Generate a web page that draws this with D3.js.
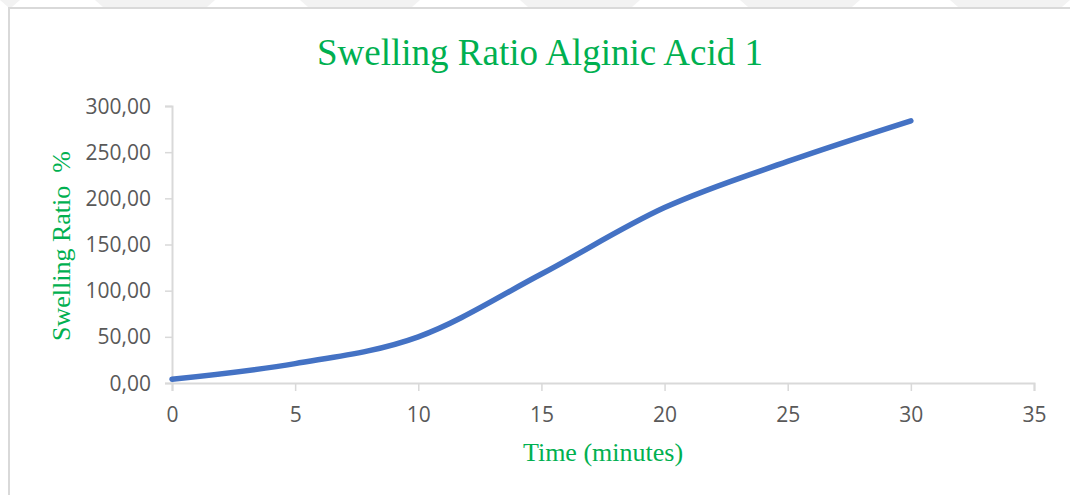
<!DOCTYPE html>
<html>
<head>
<meta charset="utf-8">
<script src="https://cdn.jsdelivr.net/npm/d3@7"></script>
<style>
  html, body { margin: 0; padding: 0; background: #fff; }
  svg { display: block; }
</style>
</head>
<body>
<div id="chart"></div>
<script>
// data
const times = [0, 5, 10, 15, 20, 25, 30]
const swelling = [4, 21, 50, 118, 190, 240, 284]
const xTicks = [0, 5, 10, 15, 20, 25, 30, 35]
const yTicks = [0, 50, 100, 150, 200, 250, 300]

const title = "Swelling Ratio Alginic Acid 1"
const xTitle = "Time (minutes)"
const yTitle = "Swelling Ratio\u00a0\u00a0%"

const W = 1070, H = 495
const green = "#00B050"
const serif = "'Liberation Serif', 'Times New Roman', serif"
const sans = "'Open Sans', 'Liberation Sans', sans-serif"

const svg = d3.select("#chart").append("svg")
  .attr("width", W)
  .attr("height", H)

// faint watermark strip at the very top
const wm = svg.append("g").attr("fill", "#f2f2f2")
;[[0, 20], [95, 215], [300, 420], [520, 640], [740, 860], [950, 1070]].forEach(([a, b]) => {
  wm.append("polygon").attr("points", `${a},0 ${b},0 ${b - 8},7 ${a + 8},7`)
})

// chart area border (left + top visible)
svg.append("path")
  .attr("d", "M9,495 V8 H1070")
  .attr("fill", "none")
  .attr("stroke", "#d9d9d9")
  .attr("stroke-width", 2)

const x = d3.scaleLinear().domain([0, 35]).range([172, 1034])
const y = d3.scaleLinear().domain([0, 300]).range([383, 106])

// y axis
const yAxis = svg.append("g")
  .attr("transform", `translate(${x(0)},0)`)
  .call(d3.axisLeft(y).tickValues(yTicks).tickSize(7).tickPadding(14)
    .tickFormat(d => d3.format(".2f")(d).replace(".", ",")))
yAxis.select(".domain").attr("stroke", "#d9d9d9").attr("stroke-width", 2)
yAxis.selectAll(".tick line").attr("stroke", "#d9d9d9").attr("stroke-width", 1.5)
yAxis.selectAll(".tick text")
  .attr("fill", "#595959")
  .style("font-family", sans)
  .style("font-size", "21px")
  .attr("dy", "0.34em")

// x axis
const xAxis = svg.append("g")
  .attr("transform", `translate(0,${y(0)})`)
  .call(d3.axisBottom(x).tickValues(xTicks).tickSize(8).tickPadding(16))
xAxis.select(".domain").attr("stroke", "#d9d9d9").attr("stroke-width", 2)
xAxis.selectAll(".tick line").attr("stroke", "#d9d9d9").attr("stroke-width", 1.5)
xAxis.selectAll(".tick text")
  .attr("fill", "#595959")
  .style("font-family", sans)
  .style("font-size", "21px")

// the curve, smoothed like the spreadsheet line
const line = d3.line()
  .x((d, i) => x(times[i]))
  .y(d => y(d))
  .curve(d3.curveCatmullRom.alpha(0))

svg.append("path")
  .datum(swelling)
  .attr("d", line)
  .attr("fill", "none")
  .attr("stroke", "#4472C4")
  .attr("stroke-width", 5.5)
  .attr("stroke-linecap", "round")
  .attr("stroke-linejoin", "round")

// titles
svg.append("text")
  .attr("x", 540)
  .attr("y", 65)
  .attr("text-anchor", "middle")
  .attr("fill", green)
  .style("font-family", serif)
  .style("font-size", "37px")
  .text(title)

svg.append("text")
  .attr("x", 603)
  .attr("y", 461)
  .attr("text-anchor", "middle")
  .attr("fill", green)
  .style("font-family", serif)
  .style("font-size", "26px")
  .text(xTitle)

svg.append("text")
  .attr("transform", "translate(70,246) rotate(-90)")
  .attr("text-anchor", "middle")
  .attr("fill", green)
  .style("font-family", serif)
  .style("font-size", "26px")
  .text(yTitle)
</script>
</body>
</html>
